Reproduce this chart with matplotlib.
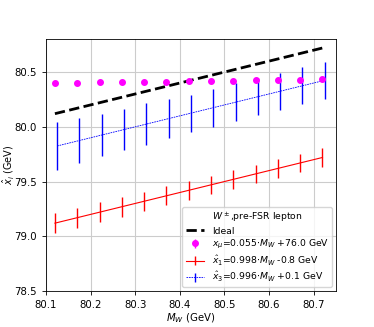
import numpy as np
import matplotlib
matplotlib.use("Agg")
import matplotlib.pyplot as plt

# W mass points (GeV)
mw = [80.12, 80.17, 80.22, 80.27, 80.32, 80.37, 80.42, 80.47, 80.52, 80.57, 80.62, 80.67, 80.72]
mw_shift = [80.125, 80.175, 80.225, 80.275, 80.325, 80.375, 80.425, 80.475, 80.525, 80.575, 80.625, 80.675, 80.725]

# x_mu
x_mu = [80.400, 80.403, 80.405, 80.408, 80.411, 80.413, 80.416, 80.419, 80.421, 80.424, 80.427, 80.430, 80.433]
x_mu_err = [0.005] * 13

# x1 hat
x1 = [79.12, 79.17, 79.22, 79.27, 79.32, 79.37, 79.42, 79.47, 79.52, 79.57, 79.62, 79.67, 79.72]
x1_err = [0.09, 0.09, 0.09, 0.09, 0.085, 0.085, 0.085, 0.085, 0.085, 0.085, 0.085, 0.085, 0.085]

# x3 hat
x3 = [79.825, 79.875, 79.925, 79.975, 80.025, 80.075, 80.125, 80.175, 80.225, 80.275, 80.325, 80.375, 80.425]
x3_err = [0.22, 0.205, 0.195, 0.19, 0.19, 0.18, 0.17, 0.175, 0.175, 0.17, 0.17, 0.17, 0.17]

fig = plt.figure(figsize=(3.74, 3.27), dpi=100)
ax = fig.add_axes([0.123, 0.110, 0.775, 0.770])

ax.plot(mw, mw, color="black", ls="--", lw=2, label="Ideal", zorder=3)
ax.errorbar(mw, x_mu, yerr=x_mu_err, fmt="o", color="magenta", ms=4, lw=1,
            label=r"$x_\mu$=0.055$\cdot M_W$ +76.0 GeV", zorder=4)
ax.errorbar(mw, x1, yerr=x1_err, color="red", lw=0.8, elinewidth=1,
            label=r"$\hat{x}_1$=0.998$\cdot M_W$ -0.8 GeV", zorder=2)
ax.errorbar(mw_shift, x3, yerr=x3_err, color="blue", ls=(0, (2, 1)), lw=0.6, elinewidth=1,
            label=r"$\hat{x}_3$=0.996$\cdot M_W$ +0.1 GeV", zorder=2)

ax.set_xlim(80.1, 80.75)
ax.set_ylim(78.5, 80.8)
ax.set_yticks([78.5, 79.0, 79.5, 80.0, 80.5])
ax.set_xticks([80.1, 80.2, 80.3, 80.4, 80.5, 80.6, 80.7])
ax.tick_params(labelsize=7.3, width=0.6, length=3)
for s in ax.spines.values():
    s.set_linewidth(0.6)
ax.grid(True, color="#cccccc", lw=0.8)
ax.set_xlabel(r"$M_W$ (GeV)", fontsize=7.3, labelpad=1)
ax.set_ylabel(r"$\hat{x}_i$ (GeV)", fontsize=7)
ax.yaxis.set_label_coords(-0.104, 0.5)

ax.legend(loc="lower right", title=r"$W^\pm$,pre-FSR lepton", fontsize=6.7,
          title_fontsize=6.7, handlelength=2, borderaxespad=0.4, labelspacing=0.25,
          borderpad=0.35)

fig.savefig("out.png", dpi=100)
